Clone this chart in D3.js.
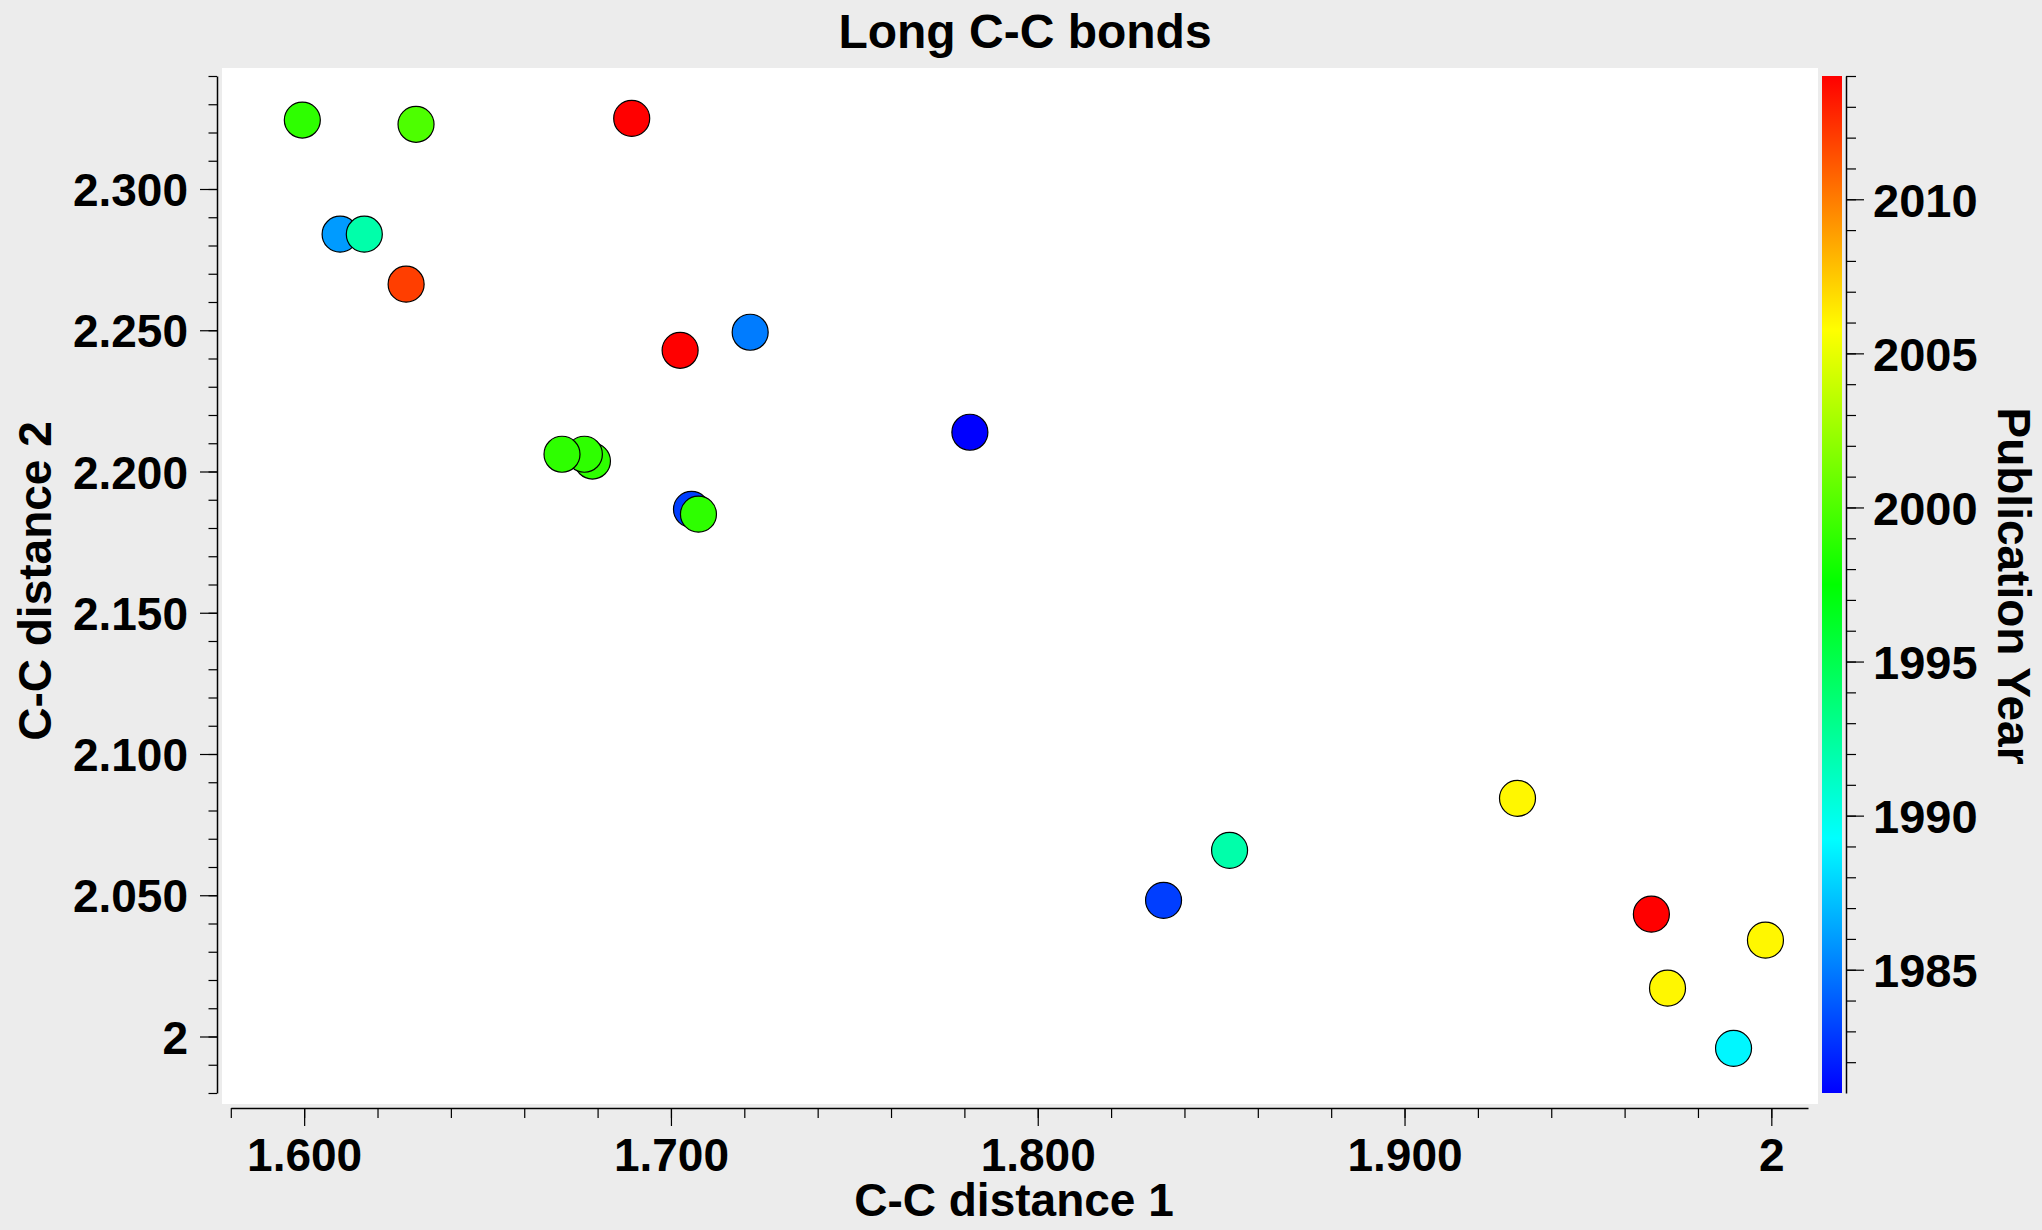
<!DOCTYPE html>
<html>
<head>
<meta charset="utf-8">
<script src="https://d3js.org/d3.v7.min.js"></script>
<style>
  body { margin: 0; background: #ececec; }
  text { font-family: "Liberation Sans", Arial, sans-serif; font-weight: bold; fill: #000; }
</style>
</head>
<body>
<svg id="chart" width="2042" height="1230"></svg>
<script>
// C-C distance 1 (x), C-C distance 2 (y), publication year (colour)
const dist1 = [1.5995, 1.6305, 1.6893, 1.6098, 1.6164, 1.6278, 1.7025, 1.7216, 1.7815,
               1.6786, 1.6764, 1.6703, 1.7056, 1.7075, 1.9308, 1.8523, 1.8343, 1.9673,
               1.9984, 1.9717, 1.9897];
const dist2 = [2.3244, 2.3229, 2.3250, 2.2840, 2.2840, 2.2663, 2.2429, 2.2493, 2.2139,
               2.2037, 2.2061, 2.2061, 2.1866, 2.1849, 2.0843, 2.0659, 2.0482, 2.0433,
               2.0341, 2.0171, 1.9958];
const years = [1999, 2000, 2014, 1986, 1992, 2012, 2014, 1985, 1981,
               1999, 1999, 1999, 1983, 1999, 2006, 1992, 1983, 2014,
               2006, 2006, 1989];

const xTickValues = [1.6, 1.7, 1.8, 1.9, 2.0];
const xTickLabels = ["1.600", "1.700", "1.800", "1.900", "2"];
const yTickValues = [2.0, 2.05, 2.1, 2.15, 2.2, 2.25, 2.3];
const yTickLabels = ["2", "2.050", "2.100", "2.150", "2.200", "2.250", "2.300"];
const zTickValues = [1985, 1990, 1995, 2000, 2005, 2010];
const zTickLabels = ["1985", "1990", "1995", "2000", "2005", "2010"];

const svg = d3.select("#chart");
svg.append("rect").attr("width", 2042).attr("height", 1230).attr("fill", "#ececec");

// frame
svg.append("rect").attr("x", 222).attr("y", 68).attr("width", 1596).attr("height", 1036)
  .attr("fill", "#fff");

const x = d3.scaleLinear().domain([1.58, 2.01]).range([230.8, 1808]);
const y = d3.scaleLinear().domain([1.98, 2.34]).range([1093, 76]);
const z = d3.scaleLinear().domain([1981, 2014]).range([1093, 76]);
const hue = d3.scaleLinear().domain([1981, 2014]).range([240, 0]);
const colour = yr => d3.hsl(hue(yr), 1, 0.5).formatHex();

function styleAxis(g) {
  g.select(".domain").attr("stroke", "#000").attr("stroke-width", 1.5);
  g.selectAll(".tick line").attr("stroke", "#000").attr("stroke-width", 1.2);
}

// x axis
const gx = svg.append("g").attr("transform", "translate(0,1108)");
gx.append("g")
  .call(d3.axisBottom(x).tickValues(d3.range(1.58, 2.011, 0.02)).tickSize(10).tickSizeOuter(0).tickFormat(""))
  .call(styleAxis);
gx.append("g")
  .call(d3.axisBottom(x).tickValues(xTickValues).tickSize(18).tickSizeOuter(0)
    .tickFormat((d, i) => xTickLabels[i]))
  .call(styleAxis)
  .call(g => g.select(".domain").remove())
  .call(g => g.selectAll(".tick text").attr("y", 63).attr("dy", null)
    .attr("font-size", 46).attr("font-family", null).attr("font-weight", null));

// y axis
const gy = svg.append("g").attr("transform", "translate(217,0)");
gy.append("g")
  .call(d3.axisLeft(y).tickValues(d3.range(1.98, 2.341, 0.01)).tickSize(8.5).tickSizeOuter(0).tickFormat(""))
  .call(styleAxis);
gy.append("g")
  .call(d3.axisLeft(y).tickValues(yTickValues).tickSize(17).tickSizeOuter(0)
    .tickFormat((d, i) => yTickLabels[i]))
  .call(styleAxis)
  .call(g => g.select(".domain").remove())
  .call(g => g.selectAll(".tick text").attr("x", -29).attr("dy", "0.36em")
    .attr("font-size", 46).attr("font-family", null).attr("font-weight", null));

// points
svg.append("g").selectAll("circle")
  .data(d3.range(dist1.length))
  .join("circle")
  .attr("cx", i => x(dist1[i]))
  .attr("cy", i => y(dist2[i]))
  .attr("r", 18)
  .attr("fill", i => colour(years[i]))
  .attr("stroke", "#000")
  .attr("stroke-width", 1.2);

// colour bar
const defs = svg.append("defs");
const grad = defs.append("linearGradient").attr("id", "pal")
  .attr("x1", 0).attr("y1", 1).attr("x2", 0).attr("y2", 0);
d3.range(0, 1.0001, 0.125).forEach(t => {
  grad.append("stop").attr("offset", t).attr("stop-color", colour(1981 + t * 33));
});
svg.append("rect").attr("x", 1822).attr("y", 76).attr("width", 20).attr("height", 1017)
  .attr("fill", "url(#pal)");

const gz = svg.append("g").attr("transform", "translate(1846,0)");
gz.append("g")
  .call(d3.axisRight(z).tickValues(d3.range(1982, 2015, 1)).tickSize(10).tickSizeOuter(0).tickFormat(""))
  .call(styleAxis);
gz.append("g")
  .call(d3.axisRight(z).tickValues(zTickValues).tickSize(18).tickSizeOuter(0)
    .tickFormat((d, i) => zTickLabels[i]))
  .call(styleAxis)
  .call(g => g.select(".domain").remove())
  .call(g => g.selectAll(".tick text").attr("x", 27).attr("dy", "0.36em")
    .attr("font-size", 47).attr("font-family", null).attr("font-weight", null));

// titles
svg.append("text").attr("x", 1025).attr("y", 48).attr("text-anchor", "middle")
  .attr("font-size", 48).text("Long C-C bonds");
svg.append("text").attr("x", 1014).attr("y", 1216).attr("text-anchor", "middle")
  .attr("font-size", 46).text("C-C distance 1");
svg.append("text").attr("transform", "translate(51,581) rotate(-90)").attr("text-anchor", "middle")
  .attr("font-size", 46).text("C-C distance 2");
svg.append("text").attr("transform", "translate(1998,586) rotate(90)").attr("text-anchor", "middle")
  .attr("font-size", 46).text("Publication Year");
</script>
</body>
</html>
